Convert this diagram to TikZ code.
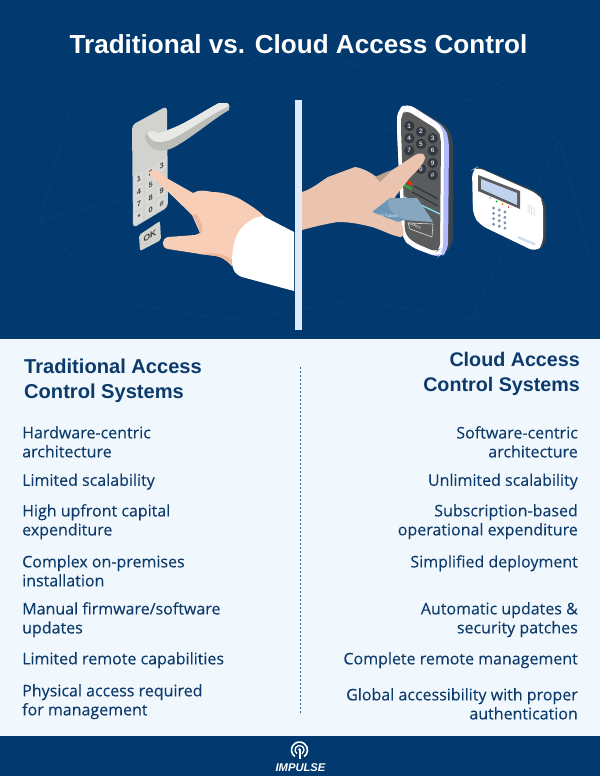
\documentclass[tikz,border=0pt]{standalone}
\usepackage{fontspec}
\setmainfont{Open Sans}
\newfontfamily\headfont{Liberation Sans}
\definecolor{navy}{HTML}{023A70}
\definecolor{netline}{HTML}{0C4379}
\definecolor{panel}{HTML}{F0F7FD}
\definecolor{ink}{HTML}{0C3A6B}
\definecolor{divbar}{HTML}{DFE9FA}
\definecolor{plate}{HTML}{D2D2CF}
\definecolor{plated}{HTML}{BDBDBA}
\definecolor{handtop}{HTML}{E8E8E6}
\definecolor{skin}{HTML}{F8CFB6}
\definecolor{skind}{HTML}{EDB69A}
\definecolor{skinr}{HTML}{EAC4AE}
\definecolor{devdark}{HTML}{5A5B5D}
\definecolor{devedge}{HTML}{3B434C}
\definecolor{keydark}{HTML}{33383E}
\definecolor{cardb}{HTML}{6E96B8}
\definecolor{cardl}{HTML}{87A6BF}
\definecolor{lcd}{HTML}{BFD3EE}
\tikzset{
  x=1pt,y=-1pt,
  bodyL/.style={inner sep=0pt,anchor=north west,align=left,text=ink,font=\fontsize{16}{19}\selectfont\addfontfeature{FakeBold=0.12}},
  bodyR/.style={inner sep=0pt,anchor=north east,align=right,text=ink,font=\fontsize{16}{19}\selectfont\addfontfeature{FakeBold=0.12}},
  headL/.style={inner sep=0pt,anchor=north west,align=left,text=ink,font=\headfont\bfseries\fontsize{20.1}{25}\selectfont},
  headR/.style={inner sep=0pt,anchor=north east,align=right,text=ink,font=\headfont\bfseries\fontsize{19.7}{25}\selectfont},
  plkey/.style={inner sep=0pt,text=black!75,font=\headfont\bfseries\fontsize{7.5}{8}\selectfont,yslant=0.5},
  rdkey/.style={circle,fill=keydark,minimum size=10.5pt,inner sep=0pt,text=lcd,font=\headfont\bfseries\fontsize{6.5}{7}\selectfont},
  net/.style={draw=netline,line width=.5pt},
}
\begin{document}
\begin{tikzpicture}
\useasboundingbox (0,0) rectangle (600,776);
\fill[navy] (0,0) rectangle (600,776);
% faint network texture
\draw[net] (0,60)--(70,110)--(130,50)--(210,85)--(290,40)--(380,75)--(470,45)--(600,90);
\draw[net] (70,110)--(40,220)--(110,300)--(230,320)--(360,300)--(470,320)--(590,260);
\draw[net] (40,220)--(120,200) (320,110)--(360,140)--(470,100)--(560,140)--(590,260);
\draw[net] (470,100)--(520,70) (360,300)--(340,240) (560,140)--(470,320);
\fill[panel] (0,339) rectangle (600,736);
% title
\node[inner sep=0pt,text=white,font=\headfont\bfseries\fontsize{26.1}{32}\selectfont] (title) at (298.5,44) {Traditional vs. Cloud Access Control};
% divider bar
\fill[divbar] (295,100) rectangle (302,330);
% traditional: door plate
\fill[plate,rounded corners=4pt] (132,125)--(167,106)--(168,207)--(133,228)--cycle;
\fill[plate,rounded corners=2pt] (139,235)--(160,221)--(161,240)--(140,251)--cycle;
\node[inner sep=0pt,text=black!75,font=\headfont\bfseries\fontsize{8.5}{9}\selectfont,yslant=0.55] (okkey) at (150,236) {OK};
% handle
\fill[plated] (145,137) .. controls (146,132) and (150,130) .. (155,132) -- (158,133) .. controls (180,128) and (200,113) .. (219,103) -- (227,103) .. controls (230,105) and (230,108) .. (229,110) .. controls (212,120) and (195,135) .. (178,145) .. controls (170,150) and (162,152) .. (156,150) .. controls (150,148) and (146,143) .. (145,137) -- cycle;
\fill[handtop] (147,133) .. controls (150,130) and (155,131) .. (158,133) .. controls (180,128) and (200,113) .. (219,103) -- (227,103) .. controls (230,105) and (229,106) .. (227,107) .. controls (208,116) and (190,130) .. (172,139) .. controls (165,142) and (158,143) .. (154,141) .. controls (150,139) and (148,136) .. (147,133) -- cycle;
\foreach \n/\t/\cx/\cy in {k1/1/139/179,k2/2/150.7/172.7,k3/3/161.7/166,k4/4/139/191.5,k5/5/150.7/185,k7/7/139/204,k8/8/150.7/197.5,k9/9/161.7/191,kS/*/139/217,k0/0/150.7/210,kH/\#/161.7/203.5}{
  \fill[white!18!plate] (\cx-5,\cy-3) -- (\cx+4,\cy-7.5) -- (\cx+4,\cy+3) -- (\cx-5,\cy+7.5) -- cycle;
  \node[plkey] (\n) at (\cx,\cy) {\t};
}
% traditional: hand
\fill[skin] (150,171) .. controls (155,168) and (160,172) .. (163,176) -- (193,193) .. controls (198,190) and (205,190) .. (212,192) .. controls (222,192) and (232,195) .. (240,199) .. controls (250,205) and (258,210) .. (265,217) -- (245,272) -- (232,266) .. controls (226,260) and (222,257) .. (216,256) -- (200,254) -- (168,249) .. controls (161,248) and (161,239) .. (168,237) -- (195,235) -- (200,233) -- (192,215) -- (154,178) .. controls (150,176) and (149,173) .. (150,171) -- cycle;
\fill[skind] (192,215) .. controls (197,221) and (198,226) .. (200,233) -- (198,236) .. controls (205,232) and (202,222) .. (196,214) -- cycle;
\fill[skind] (200,254) -- (216,256) .. controls (222,257) and (226,260) .. (232,266) -- (232,260) .. controls (225,254) and (215,252) .. (200,254) -- cycle;
\fill[white] (263,216) -- (294,232) -- (294,291) -- (242,277) .. controls (237,275) and (234,272) .. (233,268) .. controls (231,260) and (232,245) .. (238,233) .. controls (242,226) and (252,217) .. (263,216) -- cycle;
% cloud: reader
\fill[devedge,rounded corners=7pt] (412,106) -- (448,127) -- (453,140) -- (453,244) -- (444,255) -- (420,250) -- cycle;
\fill[divbar!80!blue,rounded corners=8pt] (398,110) -- (407,103) -- (445,127) -- (449,140) -- (448,251) -- (440,258) -- (411,247) -- (402,238) -- (397,130) -- cycle;
\fill[white,rounded corners=8pt] (397,110) -- (407,103) -- (442,126) -- (444,140) -- (443,252) -- (438,257) -- (411,247) -- (402,238) -- (397,130) -- cycle;
\fill[devdark,rounded corners=6pt] (401,115) -- (406,110) -- (438,130) -- (441,138) -- (440,249) -- (436,252) -- (413,242) -- (405,234) -- (401,130) -- cycle;
\foreach \n/\t/\cx/\cy in {r1/1/409.3/126,r2/2/421/131.7,r3/3/432.7/138.3,r4/4/409.3/138.3,r5/5/421/144,r6/6/432.7/150.6,r7/7/409.3/150.6,r9/9/432.7/163,r0/0/421/169,rH/\#/432.7/175}{
  \node[rdkey] (\n) at (\cx,\cy) {\t};
}
\draw[keydark,line width=1.3pt] (414,186)--(438,199) (412,192)--(438,206);
\draw[lcd!70!cyan,line width=1.3pt] (404,197)--(440,214);
\fill[green!60!black!80!white] (404,184)--(412,188)--(411,190)--(404,186)--cycle;
\fill[red!70!orange] (407,180)--(412,183)--(411,186)--(407,183)--cycle;
\draw[white!85!black,line width=.6pt] (408,223)--(433,224)--(432,237)--(410,229)--cycle;
\node[inner sep=0pt,text=white,font=\headfont\fontsize{3.5}{4}\selectfont,rotate=-22] (slotlabel) at (415,226) {CARDS};
% cloud: hand
\fill[skinr] (302,192) .. controls (312,189) and (320,182) .. (328,177) -- (355,167) .. controls (362,168) and (370,172) .. (378,178) .. controls (390,172) and (403,163) .. (415,155) .. controls (420,152) and (425,153) .. (425,158) .. controls (424,165) and (412,175) .. (408,180) -- (395,197) -- (402,225) .. controls (405,232) and (403,238) .. (400,237) .. controls (390,235) and (382,230) .. (372,227) .. controls (360,224) and (350,222) .. (338,222) .. controls (325,224) and (313,227) .. (302,230) -- cycle;
\fill[skinr!80!black] (375,177) .. controls (380,175) and (385,172) .. (392,170) -- (380,182) -- cycle;
% card
\fill[cardb,rounded corners=1pt] (372,212) -- (390,198) -- (417,198) -- (433,222) -- (404,220) -- (398,222) -- cycle;
\fill[cardl] (389,199) -- (417,198) -- (433,222) -- (406,220) .. controls (395,216) and (385,208) .. (389,199) -- cycle;
\node[inner sep=0pt,text=white,font=\headfont\fontsize{3.5}{4}\selectfont,rotate=-4] (cardlabel) at (389,216) {LL CARDS};
% alarm panel
\fill[devedge,rounded corners=7pt] (474,165) -- (540,193) -- (546,205) -- (546,243) -- (538,251) -- (480,225) -- cycle;
\fill[white,rounded corners=7pt] (472,170) -- (477,167) -- (538,194) -- (543,202) -- (543,244) -- (536,252) -- (480,225) -- (473,215) -- cycle;
\fill[devdark] (478,175) -- (520,191) -- (520,209) -- (478,191) -- cycle;
\fill[lcd] (481,179) -- (517,193) -- (517,205) -- (481,189) -- cycle;
\fill[cyan!30!blue!40] (490,198) circle (1pt);
\fill[green!70!black] (496.5,201.5) circle (1pt);
\fill[orange] (502.5,204) circle (1pt);
\fill[red!70] (508.5,207) circle (1pt);
\foreach \i in {0,1,2} \foreach \j in {0,1,2,3}
  \fill[black!20!lcd!80!navy] ({493.5+\i*5.7},{208+\i*2+\j*5.4}) circle (1.6pt);
\foreach \i in {0,...,4} \foreach \j in {0,...,4}
  \fill[black!45] ({528+\i*1.7},{205+\i*.8+\j*1.7}) circle (.35pt);
\fill[lcd!80!white] (518,236) -- (535,243) -- (535,245.5) -- (518,238.5) -- cycle;
% comparison panel
\draw[ink!80,line width=.9pt,dash pattern=on 2.4pt off 1.6pt] (300,367) -- (300,715);
\node[headL] (hl) at (24,359) {Traditional Access\\Control Systems};
\node[headR] (hr) at (580,352) {Cloud Access\\Control Systems};
\node[bodyL] (l1) at (22,426) {Hardware-centric\\architecture};
\node[bodyL] (l2) at (22,473.5) {Limited scalability};
\node[bodyL] (l3) at (22,504) {High upfront capital\\expenditure};
\node[bodyL] (l4) at (22,555) {Complex on-premises\\installation};
\node[bodyL] (l5) at (22,602) {Manual firmware/software\\updates};
\node[bodyL] (l6) at (22,652) {Limited remote capabilities};
\node[bodyL] (l7) at (22,684) {Physical access required\\for management};
\node[bodyR] (r1) at (578,426) {Software-centric\\architecture};
\node[bodyR] (r2) at (578,473.5) {Unlimited scalability};
\node[bodyR] (r3) at (578,504) {Subscription-based\\operational expenditure};
\node[bodyR] (r4) at (578,555) {Simplified deployment};
\node[bodyR] (r5) at (578,602) {Automatic updates \&\\security patches};
\node[bodyR] (r6) at (578,652) {Complete remote management};
\node[bodyR] (r7) at (578,688) {Global accessibility with proper\\authentication};
% footer logo
\draw[white,line width=1.6pt] ([shift={(125:8)}]299.5,750) arc[start angle=125,end angle=415,radius=8];
\draw[white,line width=1.3pt] ([shift={(125:4.5)}]299.5,750) arc[start angle=125,end angle=415,radius=4.5];
\fill[white] (299.5,749.5) circle (1.5pt);
\fill[white] (298.5,750) rectangle (300.5,759);
\node[inner sep=0pt,text=white,font=\headfont\bfseries\itshape\fontsize{11.2}{12}\selectfont] (logo) at (300.5,767.5) {IMPULSE};
\end{tikzpicture}
\end{document}
